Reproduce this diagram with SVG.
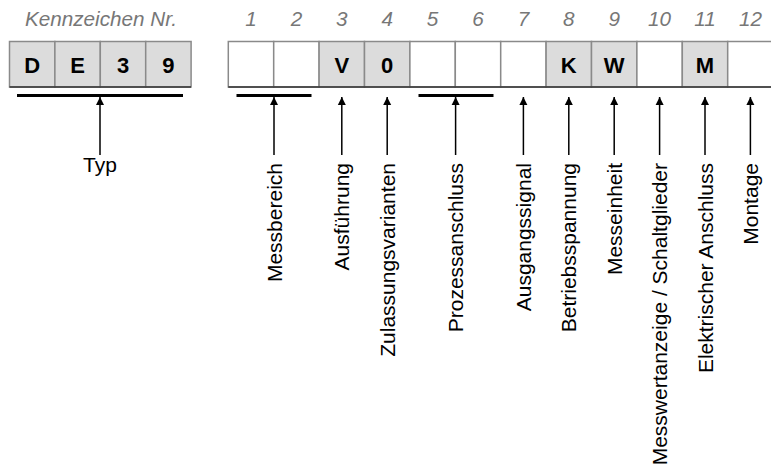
<svg xmlns="http://www.w3.org/2000/svg" width="771" height="470" viewBox="0 0 771 470">
<defs>
<style>
.hdr{font-family:"Liberation Sans",Arial,sans-serif;font-style:italic;font-size:20.7px;fill:#777;text-anchor:middle}
.box{stroke:#8a8a8a;stroke-width:1.5}
.g{fill:#dcdcdc}
.w{fill:#fff}
.bl{stroke:#333;stroke-width:1.5}
.ch{font-family:"Liberation Sans",Arial,sans-serif;font-weight:bold;font-size:22px;fill:#000;text-anchor:middle}
.lbl{font-family:"Liberation Sans",Arial,sans-serif;font-size:21px;fill:#000}
.bar{stroke:#000;stroke-width:3}
.ln{stroke:#000;stroke-width:1.5}
</style>
<marker id="ah" viewBox="0 0 10 10" refX="10" refY="5" markerWidth="8" markerHeight="12" markerUnits="userSpaceOnUse" orient="auto">
<path d="M0,0 L10,5 L0,10 z" fill="#000"/>
</marker>
</defs>
<rect width="771" height="470" fill="#fff"/>
<text class="hdr" x="101" y="26">Kennzeichen Nr.</text>
<g id="kennzeichen">
<rect class="box g" x="9.5" y="41.5" width="45.4" height="45.5"/>
<rect class="box g" x="54.9" y="41.5" width="45.4" height="45.5"/>
<rect class="box g" x="100.3" y="41.5" width="45.4" height="45.5"/>
<rect class="box g" x="145.7" y="41.5" width="45.4" height="45.5"/>
<line class="bl" x1="9.5" y1="87" x2="191" y2="87"/>
<text class="ch" x="32.2" y="72.5">D</text>
<text class="ch" x="77.6" y="72.5">E</text>
<text class="ch" x="123" y="72.5">3</text>
<text class="ch" x="168.4" y="72.5">9</text>
</g>
<g id="positions">
<text class="hdr" x="251" y="26">1</text>
<text class="hdr" x="296.4" y="26">2</text>
<text class="hdr" x="341.8" y="26">3</text>
<text class="hdr" x="387.2" y="26">4</text>
<text class="hdr" x="432.6" y="26">5</text>
<text class="hdr" x="478" y="26">6</text>
<text class="hdr" x="523.4" y="26">7</text>
<text class="hdr" x="568.8" y="26">8</text>
<text class="hdr" x="614.2" y="26">9</text>
<text class="hdr" x="659.6" y="26">10</text>
<text class="hdr" x="705" y="26">11</text>
<text class="hdr" x="750.4" y="26">12</text>
<rect class="box w" x="228.3" y="41.5" width="45.4" height="45.5"/>
<rect class="box w" x="273.7" y="41.5" width="45.4" height="45.5"/>
<rect class="box g" x="319.1" y="41.5" width="45.4" height="45.5"/>
<rect class="box g" x="364.5" y="41.5" width="45.4" height="45.5"/>
<rect class="box w" x="409.9" y="41.5" width="45.4" height="45.5"/>
<rect class="box w" x="455.3" y="41.5" width="45.4" height="45.5"/>
<rect class="box w" x="500.7" y="41.5" width="45.4" height="45.5"/>
<rect class="box g" x="546.1" y="41.5" width="45.4" height="45.5"/>
<rect class="box g" x="591.5" y="41.5" width="45.4" height="45.5"/>
<rect class="box w" x="636.9" y="41.5" width="45.4" height="45.5"/>
<rect class="box g" x="682.3" y="41.5" width="45.4" height="45.5"/>
<rect class="box w" x="727.7" y="41.5" width="45.4" height="45.5"/>
<line class="bl" x1="228.3" y1="87" x2="773" y2="87"/>
<text class="ch" x="341.8" y="72.5">V</text>
<text class="ch" x="387.2" y="72.5">0</text>
<text class="ch" x="568.8" y="72.5">K</text>
<text class="ch" x="614.2" y="72.5">W</text>
<text class="ch" x="705" y="72.5">M</text>
</g>
<g id="connectors">
<line class="bar" x1="17" y1="95.5" x2="183" y2="95.5"/>
<line class="bar" x1="236.5" y1="95.5" x2="311.5" y2="95.5"/>
<line class="bar" x1="418.5" y1="95.5" x2="493.5" y2="95.5"/>
<line class="ln" x1="100" y1="155" x2="100" y2="97" marker-end="url(#ah)"/>
<line class="ln" x1="274" y1="155" x2="274" y2="97" marker-end="url(#ah)"/>
<line class="ln" x1="341.8" y1="155" x2="341.8" y2="97" marker-end="url(#ah)"/>
<line class="ln" x1="387.2" y1="155" x2="387.2" y2="97" marker-end="url(#ah)"/>
<line class="ln" x1="455.6" y1="155" x2="455.6" y2="97" marker-end="url(#ah)"/>
<line class="ln" x1="523.4" y1="155" x2="523.4" y2="97" marker-end="url(#ah)"/>
<line class="ln" x1="568.8" y1="155" x2="568.8" y2="97" marker-end="url(#ah)"/>
<line class="ln" x1="614.2" y1="155" x2="614.2" y2="97" marker-end="url(#ah)"/>
<line class="ln" x1="659.6" y1="155" x2="659.6" y2="97" marker-end="url(#ah)"/>
<line class="ln" x1="705" y1="155" x2="705" y2="97" marker-end="url(#ah)"/>
<line class="ln" x1="750.4" y1="155" x2="750.4" y2="97" marker-end="url(#ah)"/>
</g>
<g id="label-typ"><text class="lbl" x="100" y="172" text-anchor="middle">Typ</text></g>
<g id="label-1-2"><text class="lbl" text-anchor="end" transform="translate(281.5,163) rotate(-90)">Messbereich</text></g>
<g id="label-3"><text class="lbl" text-anchor="end" transform="translate(349.3,163) rotate(-90)">Ausführung</text></g>
<g id="label-4"><text class="lbl" text-anchor="end" transform="translate(394.7,163) rotate(-90)">Zulassungsvarianten</text></g>
<g id="label-5-6"><text class="lbl" text-anchor="end" transform="translate(463.1,163) rotate(-90)">Prozessanschluss</text></g>
<g id="label-7"><text class="lbl" text-anchor="end" transform="translate(530.9,163) rotate(-90)">Ausgangssignal</text></g>
<g id="label-8"><text class="lbl" text-anchor="end" transform="translate(576.3,163) rotate(-90)">Betriebsspannung</text></g>
<g id="label-9"><text class="lbl" text-anchor="end" transform="translate(621.7,163) rotate(-90)">Messeinheit</text></g>
<g id="label-10"><text class="lbl" text-anchor="end" transform="translate(667.1,163) rotate(-90)">Messwertanzeige / Schaltglieder</text></g>
<g id="label-11"><text class="lbl" text-anchor="end" transform="translate(712.5,163) rotate(-90)">Elektrischer Anschluss</text></g>
<g id="label-12"><text class="lbl" text-anchor="end" transform="translate(757.9,163) rotate(-90)">Montage</text></g>
</svg>
